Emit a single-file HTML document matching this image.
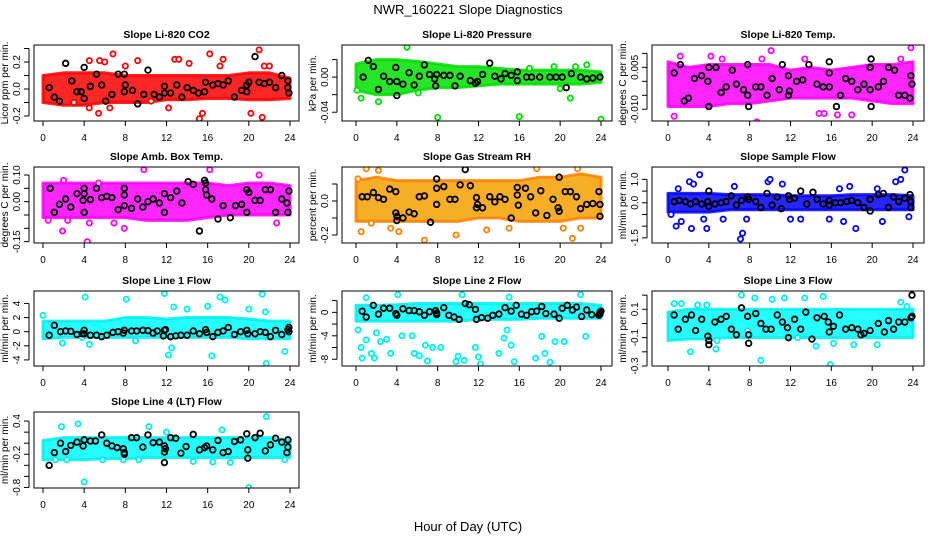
<!DOCTYPE html>
<html><head><meta charset="utf-8">
<style>
html,body{margin:0;padding:0;background:#fff;}
svg{display:block;font-family:"Liberation Sans",sans-serif;}
</style></head>
<body>
<svg id="chart" width="936" height="540" viewBox="0 0 936 540" xmlns="http://www.w3.org/2000/svg">
<rect x="0" y="0" width="936" height="540" fill="#fff"/>
<text x="468" y="14" font-size="13" text-anchor="middle">NWR_160221  Slope Diagnostics</text>
<text x="468" y="531" font-size="13" text-anchor="middle">Hour of Day (UTC)</text>
</svg>
<script>
// ---- data ----
const bandHours = [0,2,4,6,8,10,12,14,16,18,20,22,24];
const xTicks = [0,4,8,12,16,20,24];

const co2BandLo = [-0.1,-0.12,-0.12,-0.1,-0.1,-0.1,-0.08,-0.08,-0.07,-0.07,-0.08,-0.08,-0.07];
const co2BandHi = [0.1,0.12,0.12,0.12,0.1,0.1,0.1,0.1,0.1,0.1,0.12,0.12,0.08];
const co2Outliers = [[4.5,0.21],[5.5,0.21],[6,0.2],[6.8,0.26],[9.2,0.21],[12.8,0.22],[13.2,0.22],[14.2,0.19],[16.2,0.26],[17.5,0.22],[17.2,0.17],[21,0.29],[21.5,0.17],[22,0.17],[4.5,-0.14],[5.4,-0.18],[6.5,-0.14],[12.2,-0.14],[15.2,-0.22],[15.5,-0.18],[20.2,-0.18],[21.3,-0.21],[8,0.17],[10.5,-0.09],[3,-0.1]];
const co2Black = [[0.6,0.01],[1.1,-0.06],[1.6,-0.09],[2.2,0.19],[2.8,0.06],[3.3,-0.02],[3.7,-0.02],[4,0.16],[4,-0.07],[4.6,0.02],[5.2,0.11],[5.7,0.03],[6.1,-0.09],[6.7,-0.04],[7.3,0.11],[7.9,0.11],[7.9,-0.02],[8,0.03],[8.7,-0.01],[9.2,-0.11],[9.8,-0.04],[10.2,0.14],[10.8,-0.04],[11.3,-0.06],[11.8,0.02],[11.8,-0.03],[12.4,-0.03],[13,0.03],[13.5,-0.06],[14,0.01],[14.6,-0.01],[15.1,-0.03],[15.7,-0.02],[15.8,0.05],[16.5,0.03],[17,0.04],[17.5,0.03],[18,0.06],[18.6,-0.06],[19.3,-0.01],[19.8,0.03],[19.8,-0.02],[20,0.05],[20.6,0.24],[21,0.05],[21.5,0.04],[22,0.05],[22.6,0.01],[23.2,0.1],[23.8,0.06],[23.8,0.01],[23.9,-0.03]];

const presBandLo = [-0.015,-0.02,-0.02,-0.015,-0.012,-0.012,-0.01,-0.008,-0.008,-0.008,-0.008,-0.008,-0.006];
const presBandHi = [0.015,0.02,0.02,0.018,0.015,0.012,0.012,0.01,0.008,0.008,0.008,0.008,0.006];
const presOutliers = [[5,0.034],[8,-0.046],[16,-0.045],[24,-0.048],[0.5,-0.024],[2.2,-0.028],[21,-0.024],[19.4,0.012],[22.6,0.014],[0.1,-0.015],[6.1,-0.018],[20,-0.013],[17,0.01],[21.5,0.012]];
const presBlack = [[0.7,0],[1.2,0.019],[1.7,0.012],[2.2,-0.014],[2.7,0.001],[3.3,-0.005],[3.9,0.011],[4,-0.021],[4,-0.005],[4.6,-0.008],[5.2,0.005],[5.7,-0.009],[6.2,0.001],[6.7,0.014],[7.2,0.003],[7.7,-0.002],[7.8,-0.01],[7.9,0.003],[8.6,0.002],[9.2,0.002],[9.7,-0.01],[10.2,0.001],[11.2,-0.004],[11.7,-0.007],[11.9,-0.005],[12.4,0.003],[13.1,0.016],[13.6,0.001],[14.2,-0.002],[14.6,0.004],[15.2,0.002],[15.8,0.006],[15.8,-0.004],[16.7,0],[17.2,0],[18,0],[19,0],[19.6,0],[20.2,0],[20.6,-0.012],[21.1,0.004],[22,0],[22.6,-0.002],[23.2,-0.001],[23.9,0]];

const tempBandLo = [-0.009,-0.009,-0.009,-0.008,-0.008,-0.007,-0.006,-0.006,-0.006,-0.006,-0.007,-0.008,-0.008];
const tempBandHi = [0.007,0.005,0.006,0.006,0.006,0.006,0.004,0.005,0.004,0.005,0.006,0.006,0.007];
const tempOutliers = [[0.6,-0.0125],[4.2,0.009],[5.3,0.008],[8.7,-0.0145],[10.1,0.011],[9.2,0.008],[13.4,0.008],[14.8,-0.0115],[15.3,-0.0115],[16.6,-0.012],[18,-0.012],[21.5,-0.0168],[22.8,0.008],[23.8,0.012],[1.2,0.009]];
const tempBlack = [[0.6,0.003],[1.2,0.006],[1.6,-0.007],[2,-0.006],[2.6,0.001],[3.3,0.002],[3.9,0],[4,0.005],[4,-0.009],[4.7,0.005],[5.2,-0.004],[5.7,-0.002],[6.3,0.004],[6.7,-0.001],[7.4,-0.003],[7.8,0.006],[7.8,-0.005],[7.9,-0.009],[8.6,-0.002],[9.1,-0.002],[9.7,-0.005],[10.2,0.001],[10.9,-0.003],[11.2,0.006],[11.8,0.002],[11.8,-0.005],[11.9,-0.0035],[12.6,0],[13.2,0.0005],[13.8,0.006],[14.6,-0.001],[15.2,-0.002],[15.8,0.007],[15.8,0.003],[15.8,-0.002],[16.5,-0.009],[16.9,-0.005],[17.4,0.001],[18,0],[18.6,-0.003],[19.2,-0.001],[19.8,-0.003],[19.8,0.005],[19.9,0.008],[19.9,-0.009],[20.6,-0.002],[21.1,0],[21.6,0.005],[22.2,0.004],[22.6,-0.005],[23.2,-0.005],[23.7,-0.006],[23.8,0.002],[23.9,-0.001]];

const ambBandLo = [-0.06,-0.06,-0.06,-0.06,-0.06,-0.07,-0.07,-0.07,-0.06,-0.05,-0.05,-0.05,-0.05];
const ambBandHi = [0.07,0.07,0.07,0.07,0.07,0.07,0.07,0.07,0.07,0.06,0.07,0.07,0.06];
const ambOutliers = [[1.9,-0.11],[4.3,-0.15],[9.8,0.12],[16.2,0.12],[21,0.1],[4.5,-0.08],[7.9,-0.1],[0.5,-0.07],[2.4,-0.07],[6.9,-0.08],[22.7,-0.08],[2,0.08],[5.4,0.07]];
const ambBlack = [[0.7,0.05],[1.1,-0.04],[1.6,-0.01],[2.2,0.01],[2.7,-0.02],[3.3,0.03],[3.9,0.005],[4,0.05],[4,0.03],[4,-0.04],[4.6,0.008],[5.2,0.05],[5.7,0.015],[6.2,0.02],[6.7,0.015],[7.3,-0.03],[7.9,0.05],[7.9,0.025],[7.9,-0.015],[8.6,-0.025],[9.2,0.01],[9.7,-0.02],[10.2,0],[10.7,0.01],[11.3,-0.005],[11.8,0.03],[11.8,-0.04],[12.4,0.015],[13,0.04],[13.5,-0.005],[14.1,0.075],[14.6,0.065],[15.2,-0.11],[15.7,0.08],[15.8,0.07],[15.8,0.045],[15.9,0.025],[16.4,0.01],[17,-0.065],[17.5,-0.015],[18.2,-0.06],[18.7,-0.015],[19.3,-0.01],[19.8,0.045],[19.8,-0.04],[20,0.035],[20.6,0.005],[21.1,0.005],[21.6,0.045],[22.1,0.045],[22.6,-0.04],[23.2,0.01],[23.7,-0.005],[23.8,-0.04],[23.9,0.04]];

const rhBandLo = [-0.12,-0.12,-0.12,-0.12,-0.12,-0.12,-0.1,-0.1,-0.12,-0.12,-0.12,-0.1,-0.1];
const rhBandHi = [0.12,0.14,0.12,0.12,0.12,0.12,0.12,0.12,0.12,0.14,0.14,0.16,0.14];
const rhOutliers = [[1,0.19],[2.2,0.18],[0.5,-0.18],[1.5,-0.13],[4.2,-0.18],[6.7,-0.23],[9.8,-0.2],[12.8,-0.17],[15,-0.16],[17.7,0.19],[20.3,-0.16],[21.2,-0.22],[22,-0.16],[21.7,0.19],[0.2,0.13],[3.4,-0.16]];
const rhBlack = [[0.6,0.025],[1.1,0.025],[1.7,0.05],[2.2,0.02],[2.7,0.01],[3.3,0.07],[3.9,0.055],[3.9,-0.07],[4,-0.09],[4,-0.115],[4.6,-0.1],[5.2,-0.065],[5.7,-0.075],[6.2,0.025],[6.7,0.03],[7.3,-0.125],[7.9,0.13],[7.9,0.075],[7.9,-0.02],[8.6,0.085],[9.2,0.01],[9.7,0.01],[10.2,0.095],[10.7,0.185],[11.2,0.09],[11.8,0.02],[11.9,-0.02],[11.8,-0.04],[12.4,-0.04],[13.1,0.025],[13.6,-0.005],[14.1,0.025],[14.6,0.01],[15.2,-0.1],[15.8,0.08],[15.8,0.035],[15.9,-0.025],[16.6,0.075],[17.1,0.025],[17.6,-0.07],[18.1,0.06],[18.7,-0.085],[19.3,0.01],[19.8,-0.04],[19.9,-0.06],[19.9,0.14],[20.5,0.055],[21,0.055],[21.6,0.025],[22,-0.045],[22.6,-0.02],[23.2,-0.015],[23.8,0.055],[23.9,-0.02],[23.9,-0.09]];

const flowBandLo = [-0.4,-0.4,-0.4,-0.3,-0.3,-0.3,-0.3,-0.3,-0.3,-0.3,-0.3,-0.3,-0.3];
const flowBandHi = [0.4,0.4,0.4,0.35,0.35,0.35,0.3,0.3,0.3,0.35,0.35,0.35,0.3];
const flowOutliers = [[0.3,-0.5],[0.8,-1.0],[1.3,-0.8],[2.3,-1.1],[2.1,0.9],[2.5,0.8],[3.1,1.2],[3.8,-1.1],[3.5,-0.7],[5.4,-0.7],[6.5,0.7],[7.1,-1.55],[7.3,-1.3],[7.7,-0.7],[9.8,0.9],[10,1.0],[11.2,0.8],[12,-0.7],[13,-0.7],[15.8,-0.7],[16.8,0.6],[17.2,-0.8],[17.8,0.7],[18.4,-1.1],[20.5,0.6],[21,-0.8],[22.3,0.9],[22.8,1.0],[23.2,1.4],[23.6,-0.6],[1.0,0.6]];
const flowBlack = [[0.6,0.05],[1.1,0.1],[1.7,0.05],[2.2,-0.05],[2.7,0.05],[3.3,-0.05],[3.9,0.05],[4,0.5],[4,-0.15],[4.6,-0.05],[5.2,0],[5.7,0.05],[6.2,0.3],[6.7,-0.1],[7.2,0.1],[7.8,0.25],[7.9,0.15],[8.6,0.05],[9.1,-0.2],[9.7,0.4],[10.2,-0.1],[10.7,0.25],[11.1,-0.25],[11.8,0.3],[11.9,0.15],[12.4,0.2],[13,0.5],[13.6,-0.05],[14.2,0.45],[14.6,0.15],[15.2,-0.05],[15.8,0.1],[15.8,-0.1],[16.4,0],[16.9,0],[17.5,0.05],[18,0.1],[18.6,0],[19.2,-0.2],[19.8,0.15],[19.8,-0.35],[20.6,0.35],[21.1,0.4],[21.6,-0.2],[22.1,0.25],[22.6,0.05],[23.2,0.2],[23.7,0.35],[23.8,0.05],[23.8,-0.2]];

const l1BandLo = [-1,-0.8,-0.8,-0.8,-0.8,-0.8,-0.8,-0.8,-0.8,-0.8,-1,-1,-1];
const l1BandHi = [1.5,1.5,1.5,1.5,2,2,1.8,2,2,2,1.8,1.5,1.5];
const l1Outliers = [[0,2.3],[4.1,4.9],[8.1,4.6],[11.8,5.4],[12.2,-3.3],[12.5,-2.3],[16.4,-3.4],[17.2,4.9],[17.7,4.5],[21.3,5.3],[21.7,-4.5],[23.5,-2.8],[1.9,-1.6],[4.5,-1.8],[9,-1.3],[12.7,3.5],[14,3.2],[16,3.6],[20,3.2],[21.6,2.8],[3.8,-0.8]];
const l1Black = [[0.6,-0.5],[1.1,0.9],[1.7,0],[2.2,0.1],[2.7,0.05],[3.3,-0.4],[3.8,-0.3],[4,0.2],[4,-0.3],[4.6,-0.5],[5.2,-0.5],[5.7,-0.7],[6.2,-0.5],[6.8,-0.1],[7.3,0],[7.8,-0.2],[7.9,0.2],[8.6,0.1],[9.1,0.1],[9.7,0.2],[10.2,0.15],[10.7,-0.2],[11.1,0.1],[11.7,-0.6],[11.8,0.2],[11.9,0.3],[12.4,-0.7],[12.9,-0.6],[13.4,-0.5],[14,-0.5],[14.6,0.1],[15.2,-0.3],[15.8,0.3],[15.9,-0.1],[16.5,-0.7],[17,-0.1],[17.5,0.1],[18,0.6],[18.6,-0.4],[19.2,0],[19.8,0.2],[19.9,-0.3],[20.6,-0.3],[21.1,0],[21.6,-0.1],[22.1,-0.7],[22.6,0.2],[23.2,-0.4],[23.8,0.3],[23.9,0],[23.9,0.6]];

const l2BandLo = [-1.5,-1.5,-1.5,-1.5,-1.5,-1.5,-1.2,-1.2,-1.2,-1,-1,-1,-1];
const l2BandHi = [1.2,1.2,1.3,1.5,1.5,1.5,1.5,1.5,1.5,1.5,1.5,1.5,1.2];
const l2Outliers = [[0.2,-3],[0.5,-6],[0.6,-7.8],[1,-4.7],[1.5,-7],[1.8,-7.8],[2,-3.5],[2.4,-5],[3,-4.6],[3.4,-7],[5.5,-4],[5.7,-7],[6.2,-7.4],[6.8,-5.6],[7,-8.3],[7.5,-6],[8.3,-6],[9.8,-8.4],[10,-7.5],[10.6,-8.2],[11.7,-6],[12,-7.6],[12.2,-8.8],[14,-7],[14.5,-4.4],[15.2,-5.6],[15.5,-8.4],[17.6,-7.8],[18.2,-4.1],[18.5,-7],[19,-8.5],[19.5,-5],[20.4,-5],[22.5,-4.1],[14.8,-3],[4.5,-4],[1,2.5],[4.1,3],[10.4,3],[22,3],[15,2.6]];
const l2Black = [[0.6,0.2],[1,-0.8],[1.7,1.2],[2.2,-0.3],[2.7,0.7],[3.3,0.7],[3.9,-0.2],[4,-0.5],[4.6,0.6],[5.2,0.3],[5.7,0.3],[6.2,0.1],[6.7,-0.5],[7.2,0.1],[7.8,0.3],[7.9,-0.4],[7.9,-0.1],[8.6,0.8],[9.1,-0.5],[9.6,-0.8],[10.1,-1.2],[10.7,1.5],[11.1,1.3],[11.7,0.5],[11.8,-1.2],[12.3,-0.9],[12.9,-1],[13.4,-0.5],[14,-0.3],[14.6,0.8],[15.2,0.2],[15.7,1.2],[16.2,-0.3],[16.7,-0.5],[17.2,0.1],[17.7,0.2],[18.2,1],[18.6,-0.2],[19.4,-0.3],[19.9,-1],[20.2,0.7],[20.7,1.2],[21.2,0.4],[21.6,0.9],[22.1,-0.7],[22.6,0.4],[23.1,-0.4],[23.8,-0.5],[23.9,0],[23.9,-0.3],[24,0.2]];

const l3BandLo = [-0.12,-0.11,-0.11,-0.1,-0.1,-0.1,-0.1,-0.1,-0.1,-0.1,-0.1,-0.1,-0.1];
const l3BandHi = [0.08,0.1,0.1,0.1,0.1,0.1,0.1,0.1,0.1,0.1,0.1,0.1,0.1];
const l3Outliers = [[0.6,0.14],[1.3,0.14],[2.2,-0.2],[2.9,0.13],[3.8,0.13],[4.7,-0.18],[7.2,0.2],[7.8,-0.05],[8.5,0.18],[10.2,0.17],[11.4,0.18],[13.4,0.18],[14.5,-0.16],[15.2,0.19],[15.9,-0.29],[20.5,-0.15],[22.8,0.15],[23.4,0.12],[4.8,-0.12],[16.2,-0.14],[18.2,-0.15],[9.1,-0.26],[12.7,-0.1]];
const l3Black = [[0.6,0.06],[1,-0.04],[1.7,0.03],[2.3,0.06],[2.7,-0.05],[3.3,0.03],[3.9,-0.09],[4,-0.12],[4,-0.15],[4.6,0.01],[5.2,0.03],[5.7,0.05],[6.2,-0.04],[6.7,-0.08],[7.2,0.11],[7.8,0.05],[7.9,-0.08],[7.9,-0.14],[8.6,0.07],[9.1,0],[9.6,-0.04],[10.1,-0.04],[10.7,0.06],[11.2,0.01],[11.7,-0.03],[11.8,-0.1],[12.4,0.03],[13,-0.04],[13.5,0.08],[14.1,-0.11],[14.6,0.04],[15.3,0.05],[15.7,0.01],[15.8,-0.06],[16.2,-0.02],[16.8,0.06],[17.4,-0.04],[18,-0.03],[18.6,-0.04],[18.9,-0.08],[19.2,-0.07],[19.8,-0.05],[20.6,0],[21.2,-0.06],[21.6,0.02],[22.1,-0.04],[22.6,0.01],[23.2,0.01],[23.8,0.04],[23.9,0.2],[23.9,0.05]];

const l4BandLo = [-0.3,-0.3,-0.3,-0.28,-0.28,-0.26,-0.26,-0.26,-0.26,-0.26,-0.26,-0.26,-0.26];
const l4BandHi = [0.05,0.1,0.1,0.1,0.1,0.1,0.1,0.1,0.1,0.1,0.1,0.1,0.05];
const l4Outliers = [[4,-0.7],[20,-0.8],[21.7,0.48],[3.4,0.35],[10.3,0.3],[1.2,-0.3],[2.3,-0.3],[5.8,-0.3],[9.3,-0.3],[14.6,-0.33],[12,0.2],[17.4,0.24],[23.5,-0.3],[7.8,-0.3],[16.5,-0.34],[18.2,-0.35],[1.8,0.3]];
const l4Black = [[0.6,-0.4],[1.1,-0.17],[1.7,0],[2.2,-0.15],[2.7,-0.04],[3.3,0.02],[3.9,-0.05],[4,0.06],[4.6,0.04],[5.1,0.04],[5.7,0.15],[6.2,0],[6.7,-0.05],[7.2,-0.08],[7.8,-0.1],[7.9,-0.2],[7.9,-0.17],[8.6,0.1],[9.1,0.1],[9.7,-0.07],[10.2,0.15],[10.7,0.01],[11.3,0.02],[11.8,-0.05],[11.8,-0.16],[11.8,-0.35],[11.9,-0.1],[12.4,0.1],[12.9,0.09],[13.4,-0.18],[13.9,-0.06],[14.6,0.16],[15.2,-0.12],[15.7,-0.08],[15.9,-0.05],[16.5,-0.12],[17,0.05],[17.5,-0.17],[18,-0.15],[18.6,0.03],[19.2,0.06],[19.8,0.17],[19.9,-0.12],[19.9,-0.27],[20.6,0.1],[21.1,0.18],[21.6,-0.14],[22.1,-0.03],[22.6,0.09],[23.2,0.02],[23.7,-0.17],[23.8,0.06],[23.8,-0.07]];

const co2YTicks = [-0.2,-0.1,0,0.1,0.2,0.3];   const co2YLabels = ["-0.2","","0.0","","0.2",""];
const presYTicks = [-0.04,-0.02,0,0.02];     const presYLabels = ["-0.04","","0.00",""];
const tempYTicks = [-0.010,-0.005,0,0.005,0.010]; const tempYLabels = ["-0.010","","","0.005",""];
const ambYTicks = [-0.15,-0.10,-0.05,0,0.05,0.10]; const ambYLabels = ["-0.15","","","0.00","","0.10"];
const rhYTicks = [-0.2,-0.1,0,0.1];          const rhYLabels = ["-0.2","","0.0",""];
const flowYTicks = [-1.5,-1.0,-0.5,0,0.5,1.0]; const flowYLabels = ["-1.5","","","0.0","","1.0"];
const l1YTicks = [-4,-2,0,2,4];              const l1YLabels = ["-4","-2","0","2","4"];
const l2YTicks = [-8,-6,-4,-2,0,2];          const l2YLabels = ["-8","","-4","","0",""];
const l3YTicks = [-0.3,-0.2,-0.1,0,0.1,0.2]; const l3YLabels = ["-0.3","","-0.1","","0.1",""];
const l4YTicks = [-0.8,-0.6,-0.4,-0.2,0,0.2,0.4]; const l4YLabels = ["-0.8","","","-0.2","","","0.4"];

// ---- layout ----
const cols = [{l:34,r:299,x0:43,x24:290},{l:342,r:612,x0:356,x24:601},{l:652,r:924,x0:668,x24:913}];
const rows = [{t:45,b:121},{t:167,b:243},{t:291,b:366},{t:412,b:488}];

const panels = [
 {name:"co2",title:"Slope Li-820 CO2",ylab:"Licor ppm per min.",c:0,r:0,ymin:-0.237,ymax:0.326,lo:co2BandLo,hi:co2BandHi,out:co2Outliers,blk:co2Black,yt:co2YTicks,yl:co2YLabels,fill:"#ff0000",stroke:"#ff0000"},
 {name:"pressure",title:"Slope Li-820 Pressure",ylab:"kPa per min.",c:1,r:0,ymin:-0.050,ymax:0.0366,lo:presBandLo,hi:presBandHi,out:presOutliers,blk:presBlack,yt:presYTicks,yl:presYLabels,fill:"#00e000",stroke:"#00dd00"},
 {name:"temp",title:"Slope Li-820 Temp.",ylab:"degrees C per min.",c:2,r:0,ymin:-0.0142,ymax:0.013,lo:tempBandLo,hi:tempBandHi,out:tempOutliers,blk:tempBlack,yt:tempYTicks,yl:tempYLabels,fill:"#ff00ff",stroke:"#ff00ff"},
 {name:"amb-box-temp",title:"Slope Amb. Box Temp.",ylab:"degrees C per min.",c:0,r:1,ymin:-0.155,ymax:0.13,lo:ambBandLo,hi:ambBandHi,out:ambOutliers,blk:ambBlack,yt:ambYTicks,yl:ambYLabels,fill:"#ff00ff",stroke:"#ff00ff"},
 {name:"gas-stream-rh",title:"Slope Gas Stream RH",ylab:"percent per min.",c:1,r:1,ymin:-0.247,ymax:0.2,lo:rhBandLo,hi:rhBandHi,out:rhOutliers,blk:rhBlack,yt:rhYTicks,yl:rhYLabels,fill:"#f4a000",stroke:"#ff8000"},
 {name:"sample-flow",title:"Slope Sample Flow",ylab:"ml/min per min.",c:2,r:1,ymin:-1.72,ymax:1.53,lo:flowBandLo,hi:flowBandHi,out:flowOutliers,blk:flowBlack,yt:flowYTicks,yl:flowYLabels,fill:"#0000ff",stroke:"#0000ff"},
 {name:"line1-flow",title:"Slope Line 1 Flow",ylab:"ml/min per min.",c:0,r:2,ymin:-4.86,ymax:5.76,lo:l1BandLo,hi:l1BandHi,out:l1Outliers,blk:l1Black,yt:l1YTicks,yl:l1YLabels,fill:"#00ffff",stroke:"#00eeee"},
 {name:"line2-flow",title:"Slope Line 2 Flow",ylab:"ml/min per min.",c:1,r:2,ymin:-9.15,ymax:3.64,lo:l2BandLo,hi:l2BandHi,out:l2Outliers,blk:l2Black,yt:l2YTicks,yl:l2YLabels,fill:"#00ffff",stroke:"#00eeee"},
 {name:"line3-flow",title:"Slope Line 3 Flow",ylab:"ml/min per min.",c:2,r:2,ymin:-0.3,ymax:0.229,lo:l3BandLo,hi:l3BandHi,out:l3Outliers,blk:l3Black,yt:l3YTicks,yl:l3YLabels,fill:"#00ffff",stroke:"#00eeee"},
 {name:"line4-flow",title:"Slope Line 4 (LT) Flow",ylab:"ml/min per min.",c:0,r:3,ymin:-0.81,ymax:0.564,lo:l4BandLo,hi:l4BandHi,out:l4Outliers,blk:l4Black,yt:l4YTicks,yl:l4YLabels,fill:"#00ffff",stroke:"#00eeee"}
];

const NS = "http://www.w3.org/2000/svg";
const svg = document.getElementById("chart");
function mk(tag, attrs, parent){
  const e = document.createElementNS(NS, tag);
  for (const k in attrs) e.setAttribute(k, attrs[k]);
  parent.appendChild(e);
  return e;
}

panels.forEach(p => {
  const C = cols[p.c], R = rows[p.r];
  const xS = h => C.x0 + (h/24)*(C.x24 - C.x0);
  const yS = v => R.b - (v - p.ymin)/(p.ymax - p.ymin)*(R.b - R.t);
  const g = mk("g", {}, svg);
  
  

  const clipId = "clip-" + p.name;
  const cp = mk("clipPath", {id:clipId}, g);
  mk("rect", {x:C.l, y:R.t, width:C.r-C.l, height:R.b-R.t}, cp);
  const plot = mk("g", {"clip-path":"url(#"+clipId+")"}, g);
  
  

  let pts = [];
  bandHours.forEach((h,i) => pts.push(xS(h)+","+yS(p.hi[i])));
  for (let i = bandHours.length-1; i >= 0; i--) pts.push(xS(bandHours[i])+","+yS(p.lo[i]));
  const band = mk("polygon", {points:pts.join(" "), fill:p.fill, "fill-opacity":0.85, stroke:p.stroke, "stroke-opacity":0.85, "stroke-width":3, "stroke-linejoin":"round"}, plot);
  
  

  p.out.forEach(d => {
    const c = mk("circle", {cx:xS(d[0]), cy:yS(d[1]), r:2.6, fill:"#fff", stroke:p.stroke, "stroke-width":1.8}, plot);
    
    
  });
  p.blk.forEach(d => {
    const c = mk("circle", {cx:xS(d[0]), cy:yS(d[1]), r:2.8, fill:"none", stroke:"#000", "stroke-width":1.8}, plot);
    
    
  });

  const box = mk("rect", {x:C.l, y:R.t, width:C.r-C.l, height:R.b-R.t, fill:"none", stroke:"#000", "stroke-width":1}, g);
  
  

  const xa = mk("g", {}, g);
  
  
  mk("line", {x1:xS(0), x2:xS(24), y1:R.b, y2:R.b, stroke:"#000"}, xa);
  xTicks.forEach(t => {
    mk("line", {x1:xS(t), x2:xS(t), y1:R.b, y2:R.b+5, stroke:"#000"}, xa);
    const tx = mk("text", {x:xS(t), y:R.b+20, "font-size":10, "text-anchor":"middle"}, xa);
    tx.textContent = t;
    
    
  });

  const ya = mk("g", {}, g);
  
  
  const inT = p.yt.filter(v => v >= p.ymin && v <= p.ymax);
  mk("line", {x1:C.l-5, x2:C.l-5, y1:yS(Math.min(...inT)), y2:yS(Math.max(...inT)), stroke:"#000"}, ya);
  p.yt.forEach((v,i) => {
    if (v < p.ymin - 1e-9 || v > p.ymax + 1e-9) return;
    const y = yS(v);
    mk("line", {x1:C.l-10, x2:C.l-5, y1:y, y2:y, stroke:"#000"}, ya);
    if (p.yl[i]) {
      const tx = mk("text", {x:C.l-14, y:y, "font-size":10, "text-anchor":"middle", transform:"rotate(-90 "+(C.l-14)+" "+y+")"}, ya);
      tx.textContent = p.yl[i];
      
      
    }
  });
  const cy = (R.t+R.b)/2;
  const yt = mk("text", {x:C.l-26, y:cy, "font-size":10, "text-anchor":"middle", transform:"rotate(-90 "+(C.l-26)+" "+cy+")"}, g);
  yt.textContent = p.ylab;
  
  

  const tt = mk("text", {x:(C.l+C.r)/2, y:R.t-7, "font-size":10.5, "font-weight":"bold", "text-anchor":"middle"}, g);
  tt.textContent = p.title;
  
  
});
</script>
</body></html>
